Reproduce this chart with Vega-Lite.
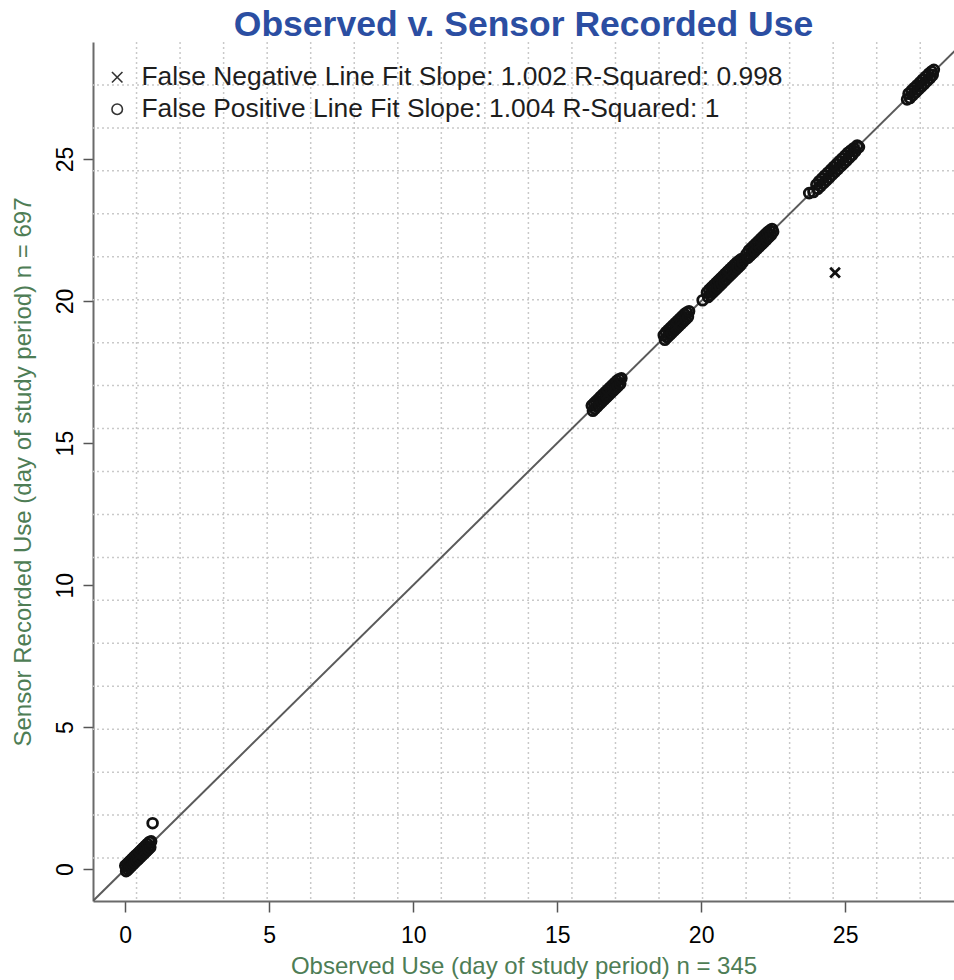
{
  "$schema": "https://vega.github.io/schema/vega-lite/v6.json",
  "width": 861,
  "height": 859,
  "autosize": {"type": "none"},
  "padding": {"left": 93, "top": 42, "right": 0, "bottom": 79},
  "background": "white",
  "config": {
    "font": "Liberation Sans",
    "view": {"stroke": null},
    "axisX": {
      "grid": false, "domain": true, "domainColor": "#6a6a6a", "domainWidth": 2,
      "tickColor": "#555555", "tickWidth": 1.5, "tickSize": 11,
      "labelFont": "Liberation Sans", "labelFontSize": 23, "labelColor": "#000000",
      "labelBaseline": "alphabetic", "labelPadding": 30, "labelFlush": false,
      "titleFont": "Liberation Sans", "titleFontSize": 24, "titleFontWeight": "normal",
      "titleColor": "#4e7d55", "titleBaseline": "alphabetic", "titleY": 72
    },
    "axisY": {
      "grid": false, "domain": true, "domainColor": "#6a6a6a", "domainWidth": 2,
      "tickColor": "#555555", "tickWidth": 1.5, "tickSize": 10,
      "labelFont": "Liberation Sans", "labelFontSize": 23, "labelColor": "#000000",
      "labelAngle": -90, "labelAlign": "center", "labelBaseline": "alphabetic", "labelPadding": 11, "labelFlush": false,
      "titleFont": "Liberation Sans", "titleFontSize": 24, "titleFontWeight": "normal",
      "titleColor": "#4e7d55", "titleBaseline": "alphabetic", "titleX": -63
    }
  },
  "title": {
    "text": "Observed v. Sensor Recorded Use",
    "font": "Liberation Sans",
    "fontSize": 35.5,
    "fontWeight": "bold",
    "color": "#2b4ea2",
    "anchor": "middle",
    "frame": "group",
    "offset": -2
  },
  "datasets": {
    "grid": [
      {"g": 0.392}, {"g": 1.904}, {"g": 3.416}, {"g": 4.928}, {"g": 6.44}, {"g": 7.952}, {"g": 9.464}, {"g": 10.976}, {"g": 12.488}, {"g": 14.0},
      {"g": 15.512}, {"g": 17.024}, {"g": 18.536}, {"g": 20.048}, {"g": 21.56}, {"g": 23.072}, {"g": 24.584}, {"g": 26.096}, {"g": 27.608}
    ],
    "diag": [{"o": -1.12, "s": -1.12}, {"o": 29.12, "s": 29.12}],
    "pts": [
      {"o": 0.00, "s": 0.12, "t": "FP"}, {"o": 0.03, "s": -0.07, "t": "FP"}, {"o": 0.06, "s": 0.18, "t": "FP"}, {"o": 0.09, "s": -0.01, "t": "FP"},
      {"o": 0.12, "s": 0.24, "t": "FP"}, {"o": 0.15, "s": 0.05, "t": "FP"}, {"o": 0.18, "s": 0.30, "t": "FP"}, {"o": 0.21, "s": 0.11, "t": "FP"},
      {"o": 0.24, "s": 0.36, "t": "FP"}, {"o": 0.27, "s": 0.17, "t": "FP"}, {"o": 0.30, "s": 0.42, "t": "FP"}, {"o": 0.33, "s": 0.23, "t": "FP"},
      {"o": 0.36, "s": 0.48, "t": "FP"}, {"o": 0.40, "s": 0.30, "t": "FP"}, {"o": 0.43, "s": 0.55, "t": "FP"}, {"o": 0.46, "s": 0.36, "t": "FP"},
      {"o": 0.50, "s": 0.62, "t": "FP"}, {"o": 0.53, "s": 0.43, "t": "FP"}, {"o": 0.57, "s": 0.69, "t": "FP"}, {"o": 0.60, "s": 0.50, "t": "FP"},
      {"o": 0.63, "s": 0.75, "t": "FP"}, {"o": 0.67, "s": 0.57, "t": "FP"}, {"o": 0.70, "s": 0.82, "t": "FP"}, {"o": 0.73, "s": 0.63, "t": "FP"},
      {"o": 0.77, "s": 0.89, "t": "FP"}, {"o": 0.80, "s": 0.70, "t": "FP"}, {"o": 0.84, "s": 0.96, "t": "FP"}, {"o": 0.87, "s": 0.77, "t": "FP"},
      {"o": 0.90, "s": 0.98, "t": "FP"}, {"o": 0.95, "s": 1.62, "t": "FP"},
      {"o": 16.20, "s": 16.32, "t": "FP"}, {"o": 16.24, "s": 16.14, "t": "FP"}, {"o": 16.28, "s": 16.40, "t": "FP"}, {"o": 16.31, "s": 16.21, "t": "FP"},
      {"o": 16.35, "s": 16.47, "t": "FP"}, {"o": 16.39, "s": 16.29, "t": "FP"}, {"o": 16.43, "s": 16.55, "t": "FP"}, {"o": 16.47, "s": 16.37, "t": "FP"},
      {"o": 16.51, "s": 16.63, "t": "FP"}, {"o": 16.55, "s": 16.45, "t": "FP"}, {"o": 16.59, "s": 16.71, "t": "FP"}, {"o": 16.63, "s": 16.53, "t": "FP"},
      {"o": 16.67, "s": 16.79, "t": "FP"}, {"o": 16.71, "s": 16.61, "t": "FP"}, {"o": 16.75, "s": 16.87, "t": "FP"}, {"o": 16.79, "s": 16.69, "t": "FP"},
      {"o": 16.83, "s": 16.95, "t": "FP"}, {"o": 16.87, "s": 16.77, "t": "FP"}, {"o": 16.91, "s": 17.03, "t": "FP"}, {"o": 16.95, "s": 16.85, "t": "FP"},
      {"o": 16.99, "s": 17.11, "t": "FP"}, {"o": 17.03, "s": 16.93, "t": "FP"}, {"o": 17.07, "s": 17.19, "t": "FP"}, {"o": 17.11, "s": 17.01, "t": "FP"},
      {"o": 17.15, "s": 17.25, "t": "FP"}, {"o": 17.19, "s": 17.09, "t": "FP"}, {"o": 17.23, "s": 17.28, "t": "FP"},
      {"o": 18.70, "s": 18.80, "t": "FP"}, {"o": 18.74, "s": 18.64, "t": "FP"}, {"o": 18.78, "s": 18.90, "t": "FP"}, {"o": 18.82, "s": 18.72, "t": "FP"},
      {"o": 18.86, "s": 18.98, "t": "FP"}, {"o": 18.90, "s": 18.80, "t": "FP"}, {"o": 18.94, "s": 19.06, "t": "FP"}, {"o": 18.98, "s": 18.88, "t": "FP"},
      {"o": 19.02, "s": 19.14, "t": "FP"}, {"o": 19.06, "s": 18.96, "t": "FP"}, {"o": 19.10, "s": 19.22, "t": "FP"}, {"o": 19.14, "s": 19.04, "t": "FP"},
      {"o": 19.18, "s": 19.30, "t": "FP"}, {"o": 19.22, "s": 19.12, "t": "FP"}, {"o": 19.26, "s": 19.38, "t": "FP"}, {"o": 19.30, "s": 19.20, "t": "FP"},
      {"o": 19.34, "s": 19.46, "t": "FP"}, {"o": 19.38, "s": 19.28, "t": "FP"}, {"o": 19.42, "s": 19.54, "t": "FP"}, {"o": 19.46, "s": 19.36, "t": "FP"},
      {"o": 19.50, "s": 19.60, "t": "FP"}, {"o": 19.54, "s": 19.44, "t": "FP"}, {"o": 19.58, "s": 19.64, "t": "FP"},
      {"o": 20.05, "s": 20.03, "t": "FP"},
      {"o": 20.20, "s": 20.30, "t": "FP"}, {"o": 20.24, "s": 20.14, "t": "FP"}, {"o": 20.28, "s": 20.40, "t": "FP"}, {"o": 20.32, "s": 20.22, "t": "FP"},
      {"o": 20.36, "s": 20.48, "t": "FP"}, {"o": 20.40, "s": 20.30, "t": "FP"}, {"o": 20.44, "s": 20.56, "t": "FP"}, {"o": 20.48, "s": 20.38, "t": "FP"},
      {"o": 20.52, "s": 20.64, "t": "FP"}, {"o": 20.56, "s": 20.46, "t": "FP"}, {"o": 20.60, "s": 20.72, "t": "FP"}, {"o": 20.64, "s": 20.54, "t": "FP"},
      {"o": 20.68, "s": 20.80, "t": "FP"}, {"o": 20.72, "s": 20.62, "t": "FP"}, {"o": 20.76, "s": 20.88, "t": "FP"}, {"o": 20.80, "s": 20.70, "t": "FP"},
      {"o": 20.84, "s": 20.96, "t": "FP"}, {"o": 20.88, "s": 20.78, "t": "FP"}, {"o": 20.92, "s": 21.04, "t": "FP"}, {"o": 20.96, "s": 20.86, "t": "FP"},
      {"o": 21.00, "s": 21.12, "t": "FP"}, {"o": 21.04, "s": 20.94, "t": "FP"}, {"o": 21.08, "s": 21.20, "t": "FP"}, {"o": 21.12, "s": 21.02, "t": "FP"},
      {"o": 21.16, "s": 21.28, "t": "FP"}, {"o": 21.20, "s": 21.10, "t": "FP"}, {"o": 21.24, "s": 21.36, "t": "FP"}, {"o": 21.28, "s": 21.18, "t": "FP"},
      {"o": 21.32, "s": 21.42, "t": "FP"}, {"o": 21.36, "s": 21.26, "t": "FP"}, {"o": 21.40, "s": 21.48, "t": "FP"}, {"o": 21.44, "s": 21.36, "t": "FP"},
      {"o": 21.58, "s": 21.66, "t": "FP"}, {"o": 21.62, "s": 21.52, "t": "FP"}, {"o": 21.66, "s": 21.78, "t": "FP"}, {"o": 21.70, "s": 21.60, "t": "FP"},
      {"o": 21.74, "s": 21.86, "t": "FP"}, {"o": 21.78, "s": 21.68, "t": "FP"}, {"o": 21.82, "s": 21.94, "t": "FP"}, {"o": 21.86, "s": 21.76, "t": "FP"},
      {"o": 21.90, "s": 22.02, "t": "FP"}, {"o": 21.94, "s": 21.84, "t": "FP"}, {"o": 21.98, "s": 22.10, "t": "FP"}, {"o": 22.02, "s": 21.92, "t": "FP"},
      {"o": 22.06, "s": 22.18, "t": "FP"}, {"o": 22.10, "s": 22.00, "t": "FP"}, {"o": 22.14, "s": 22.26, "t": "FP"}, {"o": 22.18, "s": 22.08, "t": "FP"},
      {"o": 22.22, "s": 22.34, "t": "FP"}, {"o": 22.26, "s": 22.16, "t": "FP"}, {"o": 22.30, "s": 22.42, "t": "FP"}, {"o": 22.34, "s": 22.24, "t": "FP"},
      {"o": 22.38, "s": 22.48, "t": "FP"}, {"o": 22.42, "s": 22.32, "t": "FP"}, {"o": 22.46, "s": 22.54, "t": "FP"}, {"o": 22.50, "s": 22.44, "t": "FP"},
      {"o": 23.75, "s": 23.80, "t": "FP"}, {"o": 23.90, "s": 23.84, "t": "FP"}, {"o": 24.00, "s": 24.10, "t": "FP"}, {"o": 24.05, "s": 23.95, "t": "FP"},
      {"o": 24.10, "s": 24.22, "t": "FP"}, {"o": 24.15, "s": 24.05, "t": "FP"}, {"o": 24.20, "s": 24.32, "t": "FP"}, {"o": 24.25, "s": 24.15, "t": "FP"},
      {"o": 24.30, "s": 24.42, "t": "FP"}, {"o": 24.35, "s": 24.25, "t": "FP"}, {"o": 24.40, "s": 24.52, "t": "FP"}, {"o": 24.45, "s": 24.35, "t": "FP"},
      {"o": 24.50, "s": 24.62, "t": "FP"}, {"o": 24.55, "s": 24.45, "t": "FP"}, {"o": 24.60, "s": 24.72, "t": "FP"}, {"o": 24.65, "s": 24.55, "t": "FP"},
      {"o": 24.70, "s": 24.82, "t": "FP"}, {"o": 24.75, "s": 24.65, "t": "FP"}, {"o": 24.80, "s": 24.92, "t": "FP"}, {"o": 24.85, "s": 24.75, "t": "FP"},
      {"o": 24.90, "s": 25.02, "t": "FP"}, {"o": 24.95, "s": 24.85, "t": "FP"}, {"o": 25.00, "s": 25.12, "t": "FP"}, {"o": 25.05, "s": 24.95, "t": "FP"},
      {"o": 25.10, "s": 25.22, "t": "FP"}, {"o": 25.15, "s": 25.05, "t": "FP"}, {"o": 25.20, "s": 25.30, "t": "FP"}, {"o": 25.25, "s": 25.15, "t": "FP"},
      {"o": 25.30, "s": 25.38, "t": "FP"}, {"o": 25.35, "s": 25.27, "t": "FP"}, {"o": 25.42, "s": 25.48, "t": "FP"}, {"o": 25.48, "s": 25.42, "t": "FP"},
      {"o": 27.15, "s": 27.10, "t": "FP"}, {"o": 27.20, "s": 27.30, "t": "FP"}, {"o": 27.25, "s": 27.15, "t": "FP"}, {"o": 27.30, "s": 27.40, "t": "FP"},
      {"o": 27.35, "s": 27.25, "t": "FP"}, {"o": 27.40, "s": 27.50, "t": "FP"}, {"o": 27.45, "s": 27.35, "t": "FP"}, {"o": 27.50, "s": 27.60, "t": "FP"},
      {"o": 27.55, "s": 27.45, "t": "FP"}, {"o": 27.60, "s": 27.70, "t": "FP"}, {"o": 27.65, "s": 27.55, "t": "FP"}, {"o": 27.70, "s": 27.80, "t": "FP"},
      {"o": 27.75, "s": 27.65, "t": "FP"}, {"o": 27.80, "s": 27.90, "t": "FP"}, {"o": 27.85, "s": 27.75, "t": "FP"}, {"o": 27.90, "s": 28.00, "t": "FP"},
      {"o": 27.95, "s": 27.85, "t": "FP"}, {"o": 28.00, "s": 28.08, "t": "FP"}, {"o": 28.04, "s": 27.96, "t": "FP"}, {"o": 28.08, "s": 28.14, "t": "FP"},
      {"o": 0.45, "s": 0.45, "t": "FN"}, {"o": 16.70, "s": 16.70, "t": "FN"}, {"o": 19.10, "s": 19.10, "t": "FN"}, {"o": 20.90, "s": 20.90, "t": "FN"},
      {"o": 22.00, "s": 22.00, "t": "FN"}, {"o": 24.60, "s": 24.60, "t": "FN"}, {"o": 27.60, "s": 27.60, "t": "FN"}, {"o": 24.65, "s": 21.00, "t": "FN"}
    ]
  },
  "layer": [
    {
      "data": {"name": "grid"},
      "mark": {"type": "rule", "color": "#c9c9c9", "strokeWidth": 1.5, "strokeDash": [2, 3]},
      "encoding": {
        "x": {"field": "g", "type": "quantitative", "scale": {"domain": [-1.12, 28.78], "nice": false, "zero": false},
              "axis": {"values": [0, 5, 10, 15, 20, 25], "title": "Observed Use (day of study period) n = 345"}}
      }
    },
    {
      "data": {"name": "grid"},
      "mark": {"type": "rule", "color": "#c9c9c9", "strokeWidth": 1.5, "strokeDash": [2, 3]},
      "encoding": {
        "y": {"field": "g", "type": "quantitative", "scale": {"domain": [-1.12, 29.12], "nice": false, "zero": false},
              "axis": {"values": [0, 5, 10, 15, 20, 25], "title": "Sensor Recorded Use (day of study period) n = 697"}}
      }
    },
    {
      "data": {"name": "diag"},
      "mark": {"type": "line", "color": "#5a5a5a", "strokeWidth": 2, "clip": true},
      "encoding": {
        "x": {"field": "o", "type": "quantitative", "scale": {"domain": [-1.12, 28.78], "nice": false, "zero": false},
              "axis": {"values": [0, 5, 10, 15, 20, 25], "title": "Observed Use (day of study period) n = 345"}},
        "y": {"field": "s", "type": "quantitative", "scale": {"domain": [-1.12, 29.12], "nice": false, "zero": false},
              "axis": {"values": [0, 5, 10, 15, 20, 25], "title": "Sensor Recorded Use (day of study period) n = 697"}}
      }
    },
    {
      "data": {"name": "pts"},
      "mark": {"type": "point", "filled": false, "color": "#111111", "strokeWidth": 2.8, "size": 95, "opacity": 1},
      "encoding": {
        "x": {"field": "o", "type": "quantitative", "scale": {"domain": [-1.12, 28.78], "nice": false, "zero": false},
              "axis": {"values": [0, 5, 10, 15, 20, 25], "title": "Observed Use (day of study period) n = 345"}},
        "y": {"field": "s", "type": "quantitative", "scale": {"domain": [-1.12, 29.12], "nice": false, "zero": false},
              "axis": {"values": [0, 5, 10, 15, 20, 25], "title": "Sensor Recorded Use (day of study period) n = 697"}},
        "shape": {
          "field": "t", "type": "nominal",
          "scale": {"domain": ["FN", "FP"], "range": ["M-1,-1L1,1M1,-1L-1,1", "circle"]},
          "legend": {
            "title": null, "orient": "none", "legendX": 11, "legendY": 22, "padding": 0,
            "labelFont": "Liberation Sans", "labelFontSize": 26.4, "labelColor": "#1e1e1e", "labelLimit": 0,
            "labelOffset": 11, "rowPadding": 5, "symbolSize": 110, "symbolStrokeWidth": 1.6, "symbolStrokeColor": "#333333",
            "labelExpr": "datum.label == 'FN' ? 'False Negative Line Fit Slope: 1.002 R-Squared: 0.998' : 'False Positive Line Fit Slope: 1.004 R-Squared: 1'"
          }
        }
      }
    },
    {
      "mark": {"type": "rule", "color": "#6a6a6a", "strokeWidth": 2},
      "encoding": {
        "y": {"datum": 29.12, "type": "quantitative", "scale": {"domain": [-1.12, 29.12], "nice": false, "zero": false},
              "axis": {"values": [0, 5, 10, 15, 20, 25], "title": "Sensor Recorded Use (day of study period) n = 697"}}
      }
    }
  ]
}
